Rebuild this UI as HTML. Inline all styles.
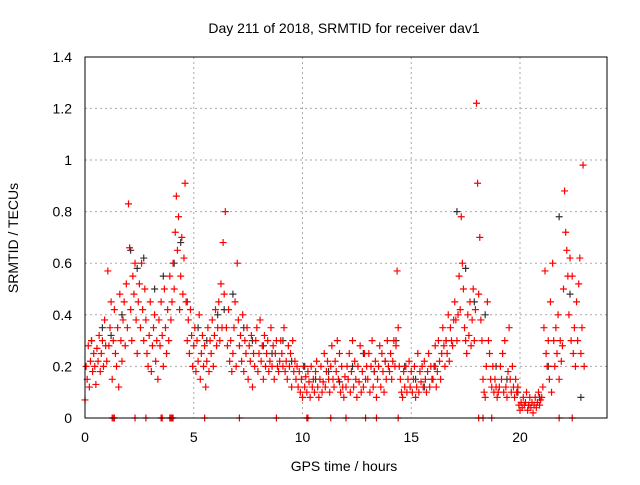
<!DOCTYPE html>
<html><head><meta charset="utf-8"><style>
body{margin:0;background:#fff;width:640px;height:480px;overflow:hidden;font-family:"Liberation Sans",sans-serif}
</style></head><body>
<svg id="chart" width="640" height="480" xmlns="http://www.w3.org/2000/svg" font-family="Liberation Sans, sans-serif" font-size="14">
<rect width="640" height="480" fill="#fff"/>
<g id="grid"></g>
<g id="ticks"></g>
<g id="gray"></g>
<g id="red"></g>
<rect x="85" y="57" width="522" height="361" fill="none" stroke="#000" stroke-width="1"/>
<text x="344" y="33" text-anchor="middle">Day 211 of 2018, SRMTID for receiver dav1</text>
<text x="344" y="471" text-anchor="middle">GPS time / hours</text>
<text x="18" y="238" text-anchor="middle" transform="rotate(-90 18 238)">SRMTID / TECUs</text>
</svg>
<script>
const xTicks=[0,5,10,15,20];
const yTicks=[0,0.2,0.4,0.6,0.8,1,1.2,1.4];
const yTickLabels=["0","0.2","0.4","0.6","0.8","1","1.2","1.4"];
// red series: one row per hour, samples every 0.05 h
const redRows=[
[0.07,0.2,0.15,0.28,0.12,0.22,0.3,0.18,0.25,0.2,0.13,0.27,0.22,0.32,0.18,0.25,0.3,0.2,0.38,0.28],
[0.22,0.57,0.28,0.35,0.45,0.15,0.3,0.42,0.25,0.2,0.35,0.12,0.48,0.3,0.22,0.38,0.45,0.28,0.52,0.35],
[0.83,0.66,0.42,0.3,0.55,0.48,0.6,0.38,0.25,0.45,0.52,0.35,0.6,0.42,0.3,0.5,0.38,0.25,0.2,0.32],
[0.45,0.18,0.28,0.35,0.4,0.22,0.3,0.15,0.38,0.28,0.45,0.32,0.2,0.5,0.35,0.25,0.42,0.3,0.55,0.38],
[0.45,0.6,0.5,0.72,0.86,0.65,0.78,0.42,0.55,0.7,0.48,0.62,0.91,0.45,0.3,0.38,0.25,0.42,0.32,0.2],
[0.28,0.35,0.18,0.3,0.22,0.4,0.15,0.25,0.32,0.2,0.28,0.12,0.22,0.35,0.18,0.3,0.25,0.38,0.2,0.32],
[0.42,0.28,0.35,0.45,0.3,0.52,0.35,0.68,0.48,0.8,0.35,0.28,0.42,0.22,0.3,0.18,0.25,0.35,0.45,0.2],
[0.6,0.38,0.28,0.32,0.22,0.4,0.18,0.3,0.25,0.35,0.15,0.28,0.22,0.32,0.12,0.25,0.2,0.3,0.35,0.18],
[0.25,0.38,0.22,0.28,0.15,0.32,0.2,0.25,0.3,0.18,0.22,0.35,0.2,0.28,0.15,0.25,0.3,0.2,0.18,0.22],
[0.3,0.25,0.2,0.35,0.18,0.22,0.15,0.28,0.2,0.25,0.12,0.3,0.18,0.22,0.15,0.2,0.12,0.18,0.1,0.15],
[0.08,0.2,0.12,0.16,0.1,0.18,0.14,0.08,0.2,0.12,0.15,0.1,0.18,0.22,0.12,0.08,0.15,0.2,0.1,0.14],
[0.25,0.12,0.18,0.22,0.15,0.1,0.2,0.28,0.15,0.12,0.22,0.18,0.3,0.15,0.25,0.1,0.2,0.12,0.08,0.16],
[0.12,0.2,0.15,0.25,0.1,0.18,0.3,0.12,0.22,0.15,0.08,0.2,0.14,0.28,0.1,0.18,0.12,0.25,0.15,0.2],
[0.15,0.25,0.1,0.2,0.3,0.12,0.18,0.22,0.08,0.15,0.2,0.28,0.12,0.25,0.18,0.1,0.22,0.15,0.3,0.2],
[0.18,0.25,0.15,0.22,0.3,0.2,0.28,0.57,0.35,0.2,0.15,0.1,0.08,0.18,0.12,0.2,0.1,0.15,0.22,0.12],
[0.18,0.1,0.15,0.2,0.08,0.12,0.25,0.1,0.18,0.14,0.2,0.12,0.22,0.15,0.1,0.18,0.25,0.12,0.2,0.15],
[0.15,0.2,0.28,0.12,0.18,0.3,0.22,0.15,0.25,0.35,0.28,0.2,0.3,0.25,0.4,0.22,0.35,0.3,0.28,0.38],
[0.45,0.38,0.3,0.4,0.55,0.42,0.78,0.6,0.5,0.35,0.3,0.25,0.4,0.32,0.45,0.28,0.38,0.5,0.3,0.42],
[1.22,0.91,0.48,0.7,0.38,0.3,0.15,0.1,0.08,0.2,0.45,0.3,0.25,0.15,0.12,0.2,0.1,0.15,0.12,0.08],
[0.1,0.12,0.2,0.15,0.25,0.1,0.3,0.12,0.08,0.18,0.35,0.15,0.1,0.2,0.12,0.08,0.15,0.1,0.12,0.05],
[0.03,0.06,0.04,0.08,0.05,0.06,0.1,0.03,0.05,0.08,0.04,0.06,0.02,0.05,0.08,0.04,0.06,0.1,0.05,0.07],
[0.08,0.12,0.35,0.57,0.25,0.2,0.3,0.15,0.45,0.1,0.6,0.3,0.2,0.35,0.25,0.4,0.15,0.3,0.22,0.28],
[0.5,0.88,0.72,0.65,0.55,0.4,0.62,0.3,0.55,0.25,0.35,0.2,0.45,0.3,0.52,0.62,0.25,0.35,0.98,0.2]];
const zeroT=[1.25,1.3,1.35,2.3,2.8,3.5,3.55,3.9,3.95,4.0,4.05,5.5,7.1,8.8,10.2,10.25,11.3,12.0,12.9,13.4,14.4,18.1,18.3,18.7,21.8,22.4];
const grayT=[0.3,0.8,1.2,1.7,2.1,2.4,2.7,3.2,3.6,4.1,4.4,4.7,5.2,5.6,6.1,6.4,6.8,7.3,7.7,8.2,8.6,9.1,9.5,10.1,10.6,11.2,11.7,12.3,12.8,13.3,13.8,14.3,14.7,15.2,15.6,16.1,16.6,17.1,17.5,17.9,18.4,18.9,19.4,19.9,20.4,20.9,21.3,21.8,22.3,22.8];
const grayV=[0.3,0.35,0.32,0.4,0.65,0.58,0.62,0.5,0.55,0.6,0.68,0.45,0.35,0.3,0.4,0.42,0.48,0.35,0.3,0.28,0.25,0.3,0.22,0.2,0.15,0.18,0.14,0.2,0.25,0.18,0.22,0.3,0.2,0.15,0.12,0.2,0.3,0.8,0.58,0.45,0.4,0.2,0.15,0.1,0.05,0.08,0.2,0.78,0.48,0.08];
const X=t=>85+t*21.75, Y=v=>418-v*258;
const NS="http://www.w3.org/2000/svg";
function mk(tag,attrs,parent){const e=document.createElementNS(NS,tag);for(const k in attrs)e.setAttribute(k,attrs[k]);parent.appendChild(e);return e;}
const grid=document.getElementById('grid'),ticks=document.getElementById('ticks');
xTicks.forEach(t=>{const x=X(t);
 if(t>0){const g=mk('line',{x1:x,x2:x,y1:57,y2:418,stroke:'#aaa','stroke-dasharray':'2,3'},grid);
 
 }
 const l=mk('text',{x:x,y:442,'text-anchor':'middle'},ticks);l.textContent=t;
 
 });
yTicks.forEach((v,i)=>{const y=Y(v);
 if(v>0&&v<1.4){const g=mk('line',{x1:85,x2:607,y1:y,y2:y,stroke:'#aaa','stroke-dasharray':'2,3'},grid);
 
 }
 const l=mk('text',{x:72,y:y+5,'text-anchor':'end'},ticks);l.textContent=yTickLabels[i];
 
 });
function plus(t,v,col,g,name){const x=X(t),y=Y(v);
 const p=mk('path',{d:`M${x-3.5} ${y}h7M${x} ${y-3.5}v7`,stroke:col,'stroke-width':1.2,fill:'none'},g);
 
 }
const gg=document.getElementById('gray'),rg=document.getElementById('red');
grayT.forEach((t,i)=>plus(t,grayV[i],'#333',gg,'gray-point'));
redRows.forEach((row,h)=>row.forEach((v,k)=>plus(h+k*0.05,v,'#f00',rg,'red-point')));
zeroT.forEach(t=>plus(t,0,'#f00',rg,'red-zero-point'));
</script>
</body></html>
